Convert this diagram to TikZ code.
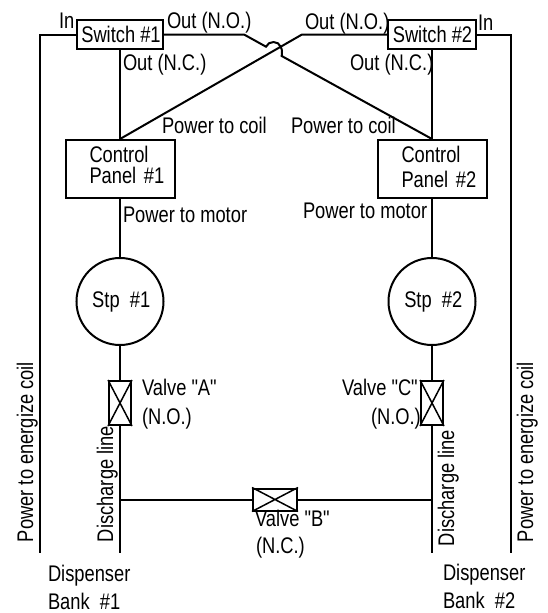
\documentclass[tikz,border=0pt]{standalone}
\usepackage{fontspec}
\newfontfamily\lsans[FakeStretch=0.81]{Liberation Sans}
\newcommand{\panelline}[2]{\hspace*{24pt}\raisebox{#1}[\height][\depth]{#2}}
\begin{document}
\begin{tikzpicture}[x=1pt,y=-1pt,
  wire/.style={line width=2pt},
  lbl/.style={inner sep=0pt,outer sep=0pt,anchor=base west,font=\lsans\fontsize{22.6}{25}\selectfont},
  vlbl/.style={lbl,rotate=90},
  boxed/.style={draw,line width=2pt,inner sep=0pt,font=\lsans\fontsize{22.6}{25}\selectfont},
  panel/.style={boxed,minimum width=109pt,minimum height=58pt,inner xsep=0pt,text width=109pt,align=left},
  motor/.style={boxed,circle,minimum size=87pt},
  valvebox/.style={draw,line width=2pt,inner sep=0pt}]
\useasboundingbox (0,0) rectangle (548,613);
\node[boxed,minimum width=86pt,minimum height=29pt] (sw1) at (120,34.5) {\hspace*{2pt}Switch \#1};
\node[boxed,minimum width=88pt,minimum height=29pt] (sw2) at (432,34.5) {\hspace*{1pt}Switch \#2};
\node[panel] (p1) at (120,169) {\panelline{4pt}{Control}\\[-4pt]\panelline{4pt}{Panel \#1}};
\node[panel] (p2) at (432,169) {\panelline{2pt}{Control}\\\panelline{2pt}{Panel \#2}};
\node[motor] (m1) at (120,301.5) {\hspace*{2.5pt}Stp\ \ \#1};
\node[motor] (m2) at (432,301.5) {\hspace*{2.5pt}Stp\ \ \#2};
\node[valvebox,minimum width=22pt,minimum height=44pt] (va) at (120,403) {};
\node[valvebox,minimum width=22pt,minimum height=44pt] (vc) at (432,403) {};
\node[valvebox,minimum width=44pt,minimum height=22pt] (vb) at (275,499.5) {};
\foreach \v in {va,vb,vc}{
  \draw[line width=1.5pt] (\v.north west) -- (\v.south east) (\v.north east) -- (\v.south west);
}
\coordinate (in1) at (40,34.5);
\coordinate (in1e) at (40,553);
\coordinate (in2) at (511,34.5);
\coordinate (in2e) at (511,553);
\coordinate (d1) at (120,553);
\coordinate (d2) at (432,553);
\coordinate (j1) at (120,499.5);
\coordinate (j2) at (432,499.5);
\coordinate (k1) at (244,34.5);
\coordinate (k2) at (302,34.5);
\coordinate (h1) at (266,46.7);
\coordinate (h2) at (280.7,46.7);
\coordinate (h3) at (281.7,56);
\draw[wire] (sw1.west) -- (in1) -- (in1e);
\draw[wire] (sw2.east) -- (in2) -- (in2e);
\draw[wire] (sw1.south) -- (p1.north);
\draw[wire] (sw2.south) -- (p2.north);
\draw[wire] (p1.north) -- (k2) -- (sw2.west);
\draw[wire] (sw1.east) -- (k1) -- (h1) .. controls (268.5,40.5) and (278.5,40.5) .. (h2) .. controls (282.5,50) and (282,53) .. (h3) -- (p2.north);
\draw[wire] (p1.south) -- (m1.north);
\draw[wire] (p2.south) -- (m2.north);
\draw[wire] (m1.south) -- (va.north);
\draw[wire] (m2.south) -- (vc.north);
\draw[wire] (va.south) -- (d1);
\draw[wire] (vc.south) -- (d2);
\draw[wire] (j1) -- (vb.west);
\draw[wire] (vb.east) -- (j2);
\node[lbl] (t1) at (59,28) {In};
\node[lbl] (t2) at (167,28) {Out (N.O.)};
\node[lbl] (t3) at (123,70) {Out (N.C.)};
\node[lbl] (t4) at (162,133) {Power to coil};
\node[lbl] (t5) at (123,222) {Power to motor};
\node[lbl] (t6) at (478,30) {In};
\node[lbl] (t7) at (305,29) {Out (N.O.)};
\node[lbl] (t8) at (350,70) {Out (N.C.)};
\node[lbl] (t9) at (291,133) {Power to coil};
\node[lbl] (t10) at (303,218) {Power to motor};
\node[lbl] (t11) at (142,395) {Valve "A"};
\node[lbl] (t12) at (142,424) {(N.O.)};
\node[lbl] (t13) at (342,395) {Valve "C"};
\node[lbl] (t14) at (371,424) {(N.O.)};
\node[lbl] (t15) at (255,526) {Valve "B"};
\node[lbl] (t16) at (256,553) {(N.C.)};
\node[lbl] (t17) at (48,581) {Dispenser};
\node[lbl] (t18) at (48,609) {Bank\ \ \#1};
\node[lbl] (t19) at (443,580) {Dispenser};
\node[lbl] (t20) at (443,608) {Bank\ \ \#2};
\node[vlbl] (t21) at (33,542) {Power to energize coil};
\node[vlbl] (t22) at (113,542) {Discharge line};
\node[vlbl] (t23) at (454,546) {Discharge line};
\node[vlbl] (t24) at (533,542) {Power to energize coil};
\end{tikzpicture}
\end{document}
